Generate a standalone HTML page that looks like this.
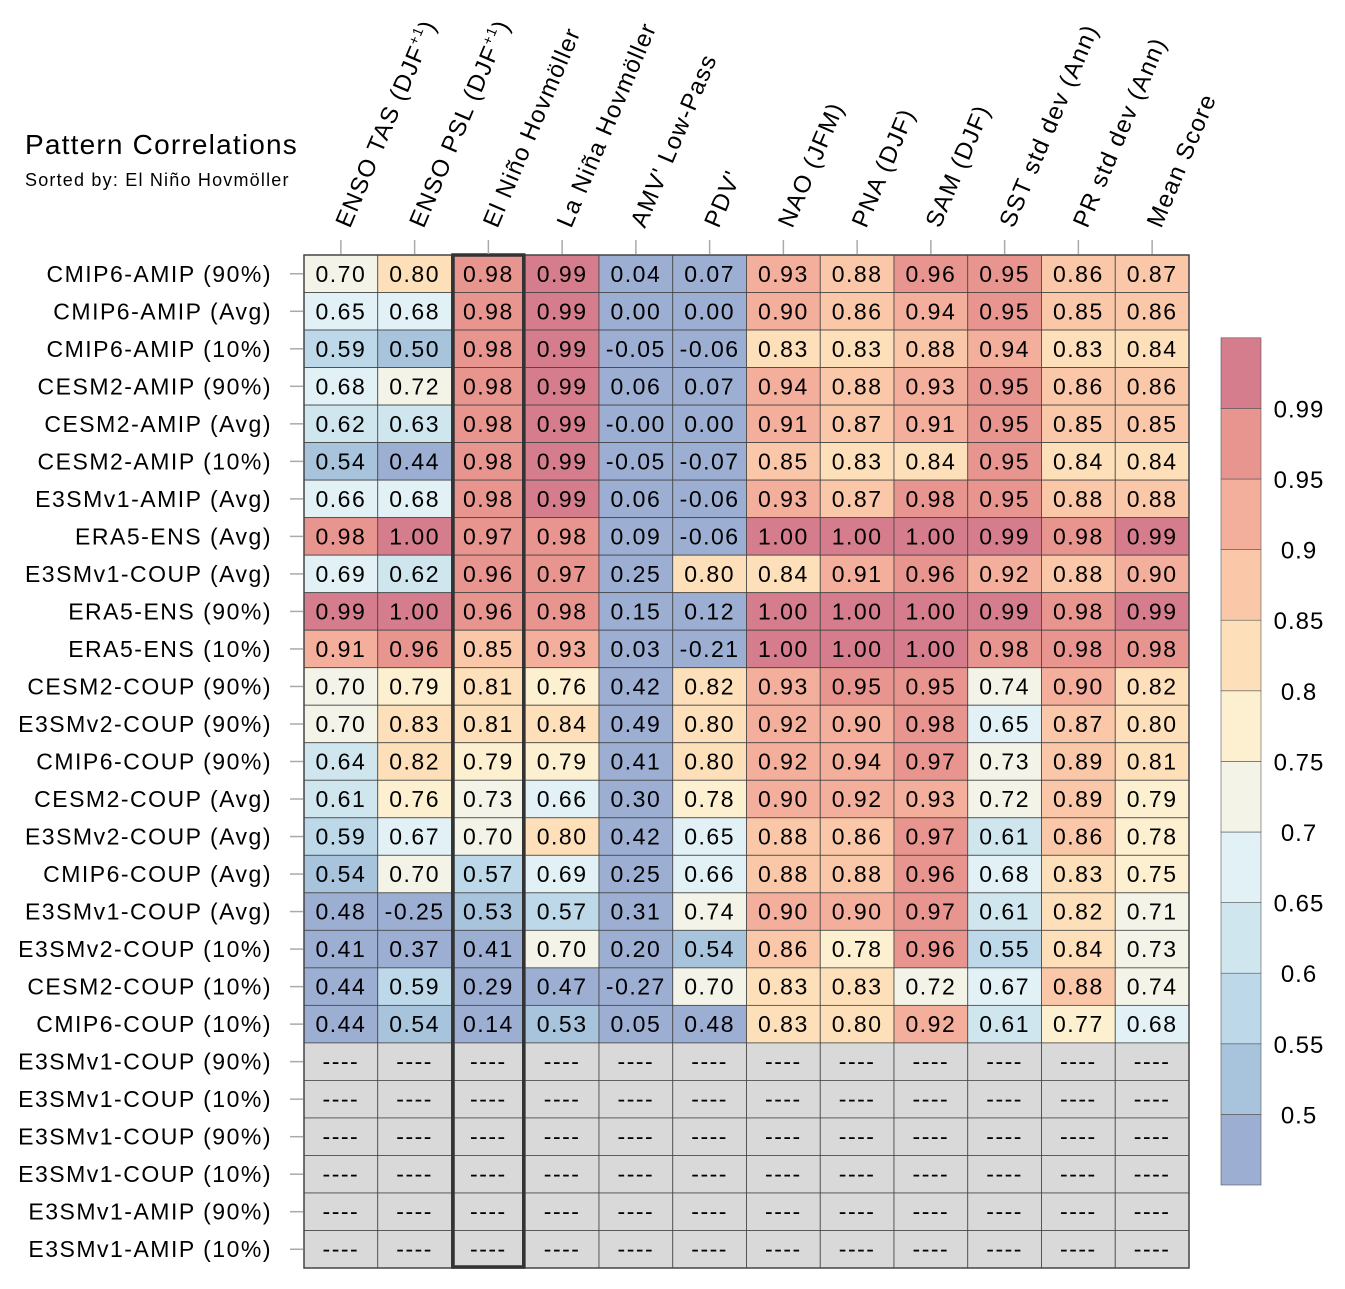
<!DOCTYPE html>
<html><head><meta charset="utf-8"><style>
body{margin:0;background:#fff;}
svg{display:block;font-family:"Liberation Sans",sans-serif;}
</style></head><body>
<svg id="chart" width="1345" height="1289" xmlns="http://www.w3.org/2000/svg">
<text x="25" y="154" font-size="28" letter-spacing="1.2">Pattern Correlations</text>
<text x="25" y="186" font-size="18" letter-spacing="1.2">Sorted by: El Niño Hovmöller</text>
<g id="cells"></g>
<g id="rowlabels"></g>
<g id="collabels"></g>
<g id="cbar"></g>
</svg>
<script>
const columns = ["ENSO TAS (DJF","ENSO PSL (DJF","El Niño Hovmöller","La Niña Hovmöller","AMV' Low-Pass","PDV'","NAO (JFM)","PNA (DJF)","SAM (DJF)","SST std dev (Ann)","PR std dev (Ann)","Mean Score"];
const superscripts = ["+1","+1","","","","","","","","","",""];
const rows = ["CMIP6-AMIP (90%)","CMIP6-AMIP (Avg)","CMIP6-AMIP (10%)","CESM2-AMIP (90%)","CESM2-AMIP (Avg)","CESM2-AMIP (10%)","E3SMv1-AMIP (Avg)","ERA5-ENS (Avg)","E3SMv1-COUP (Avg)","ERA5-ENS (90%)","ERA5-ENS (10%)","CESM2-COUP (90%)","E3SMv2-COUP (90%)","CMIP6-COUP (90%)","CESM2-COUP (Avg)","E3SMv2-COUP (Avg)","CMIP6-COUP (Avg)","E3SMv1-COUP (Avg)","E3SMv2-COUP (10%)","CESM2-COUP (10%)","CMIP6-COUP (10%)","E3SMv1-COUP (90%)","E3SMv1-COUP (10%)","E3SMv1-COUP (90%)","E3SMv1-COUP (10%)","E3SMv1-AMIP (90%)","E3SMv1-AMIP (10%)"];
const values = [
["0.70","0.80","0.98","0.99","0.04","0.07","0.93","0.88","0.96","0.95","0.86","0.87"],
["0.65","0.68","0.98","0.99","0.00","0.00","0.90","0.86","0.94","0.95","0.85","0.86"],
["0.59","0.50","0.98","0.99","-0.05","-0.06","0.83","0.83","0.88","0.94","0.83","0.84"],
["0.68","0.72","0.98","0.99","0.06","0.07","0.94","0.88","0.93","0.95","0.86","0.86"],
["0.62","0.63","0.98","0.99","-0.00","0.00","0.91","0.87","0.91","0.95","0.85","0.85"],
["0.54","0.44","0.98","0.99","-0.05","-0.07","0.85","0.83","0.84","0.95","0.84","0.84"],
["0.66","0.68","0.98","0.99","0.06","-0.06","0.93","0.87","0.98","0.95","0.88","0.88"],
["0.98","1.00","0.97","0.98","0.09","-0.06","1.00","1.00","1.00","0.99","0.98","0.99"],
["0.69","0.62","0.96","0.97","0.25","0.80","0.84","0.91","0.96","0.92","0.88","0.90"],
["0.99","1.00","0.96","0.98","0.15","0.12","1.00","1.00","1.00","0.99","0.98","0.99"],
["0.91","0.96","0.85","0.93","0.03","-0.21","1.00","1.00","1.00","0.98","0.98","0.98"],
["0.70","0.79","0.81","0.76","0.42","0.82","0.93","0.95","0.95","0.74","0.90","0.82"],
["0.70","0.83","0.81","0.84","0.49","0.80","0.92","0.90","0.98","0.65","0.87","0.80"],
["0.64","0.82","0.79","0.79","0.41","0.80","0.92","0.94","0.97","0.73","0.89","0.81"],
["0.61","0.76","0.73","0.66","0.30","0.78","0.90","0.92","0.93","0.72","0.89","0.79"],
["0.59","0.67","0.70","0.80","0.42","0.65","0.88","0.86","0.97","0.61","0.86","0.78"],
["0.54","0.70","0.57","0.69","0.25","0.66","0.88","0.88","0.96","0.68","0.83","0.75"],
["0.48","-0.25","0.53","0.57","0.31","0.74","0.90","0.90","0.97","0.61","0.82","0.71"],
["0.41","0.37","0.41","0.70","0.20","0.54","0.86","0.78","0.96","0.55","0.84","0.73"],
["0.44","0.59","0.29","0.47","-0.27","0.70","0.83","0.83","0.72","0.67","0.88","0.74"],
["0.44","0.54","0.14","0.53","0.05","0.48","0.83","0.80","0.92","0.61","0.77","0.68"]
];
const levels = [0.5,0.55,0.6,0.65,0.7,0.75,0.8,0.85,0.9,0.95,0.99];
const levelLabels = ["0.5","0.55","0.6","0.65","0.7","0.75","0.8","0.85","0.9","0.95","0.99"];
const palette = ["#9daed3","#a8c3dc","#bdd8e8","#cfe6ef","#e2f1f6","#f3f3e8","#fdf0d0","#fde0b9","#fac8a8","#f4ae9c","#e8958f","#d57d8d"];
const highlightCol = 2;

const NS="http://www.w3.org/2000/svg";
const X0=304,X1=1189,Y0=255,Y1=1268;
const cw=(X1-X0)/columns.length, rh=(Y1-Y0)/rows.length;
const xOf=i=>X0+i*cw, yOf=j=>Y0+j*rh;
function mk(tag,attrs,parent){const e=document.createElementNS(NS,tag);for(const k in attrs)e.setAttribute(k,attrs[k]);parent.appendChild(e);return e;}
function colorFor(v){let b=0;for(let i=0;i<levels.length;i++){if(v>=levels[i]-1e-9)b=i+1;}return palette[b];}
const cells=document.getElementById('cells');
for(let j=0;j<rows.length;j++){
  for(let i=0;i<columns.length;i++){
    const has=j<values.length;
    const r=mk('rect',{x:xOf(i),y:yOf(j),width:cw,height:rh,fill:has?colorFor(parseFloat(values[j][i])):"#d9d9d9",stroke:"#444","stroke-width":0.8},cells);
    
    
    const t=mk('text',{x:xOf(i)+cw/2,y:yOf(j)+rh/2+8,"font-size":23,"letter-spacing":1.5,"text-anchor":"middle"},cells);
    t.textContent=has?values[j][i]:"----";
    
    
  }
}
const frame=mk('rect',{x:X0,y:Y0,width:X1-X0,height:Y1-Y0,fill:"none",stroke:"#444","stroke-width":1.5},cells);


const hl=mk('rect',{x:xOf(highlightCol)+1.5,y:Y0,width:cw-3,height:Y1-Y0-1,fill:"none",stroke:"#333","stroke-width":3.5},cells);


const rl=document.getElementById('rowlabels');
rows.forEach((r,j)=>{
  const cy=yOf(j)+rh/2;
  const tk=mk('line',{x1:290,x2:303,y1:cy,y2:cy,stroke:"#aaa","stroke-width":1.5},rl);
  
  
  const t=mk('text',{x:272,y:cy+8,"font-size":23,"letter-spacing":1.5,"text-anchor":"end"},rl);
  t.textContent=r;
  
  
});
const cl=document.getElementById('collabels');
columns.forEach((c,i)=>{
  const cx=xOf(i)+cw/2;
  const tk=mk('line',{x1:cx,x2:cx,y1:240,y2:254,stroke:"#aaa","stroke-width":1.5},cl);
  
  
  const t=mk('text',{x:0,y:0,"font-size":24,"letter-spacing":1.3,transform:`translate(${cx+9},229) rotate(-67)`},cl);
  t.textContent=c;
  if(superscripts[i]){
    const s=mk('tspan',{"font-size":14,dy:-10},t);s.textContent=superscripts[i];
    const s2=mk('tspan',{dy:10},t);s2.textContent=")";
  }
  
  
});
const cb=document.getElementById('cbar');
const CB0=1185,CBstep=70.6;
palette.forEach((p,k)=>{
  const r=mk('rect',{x:1221,y:CB0-(k+1)*CBstep,width:40,height:CBstep,fill:p,stroke:"#555","stroke-width":0.6},cb);
  
  
});
levelLabels.forEach((l,k)=>{
  const t=mk('text',{x:1299,y:CB0-(k+1)*CBstep+9,"font-size":24,"letter-spacing":1,"text-anchor":"middle"},cb);
  t.textContent=l;
  
  
});
</script>
</body></html>
